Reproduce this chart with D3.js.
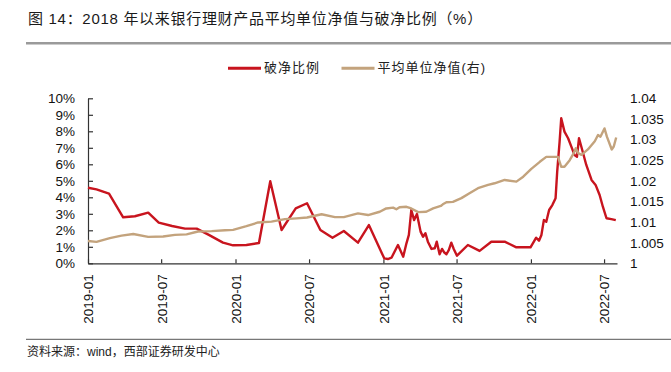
<!DOCTYPE html>
<html>
<head>
<meta charset="utf-8">
<script src="https://cdn.jsdelivr.net/npm/d3@7"></script>
<style>
  body { margin: 0; background: #fff; }
  svg { display: block; }
  text { font-family: "Liberation Sans", "Noto Sans CJK SC", sans-serif; }
</style>
</head>
<body>
<div id="svgContainer"><svg></svg></div>
<script>
const titleText = '图 14：2018 年以来银行理财产品平均单位净值与破净比例（%）'
const sourceText = '资料来源：wind，西部证券研发中心'
const seriesNames = ['破净比例', '平均单位净值(右)']

// 破净比例 (%), left axis
const breakDates = ['2019-01-01','2019-01-22','2019-02-22','2019-03-29','2019-04-27','2019-05-30','2019-06-25','2019-07-28',
  '2019-08-29','2019-09-27','2019-10-27','2019-12-01','2019-12-26','2020-01-28','2020-02-28','2020-03-27','2020-04-24',
  '2020-05-29','2020-06-26','2020-07-29','2020-08-28','2020-09-25','2020-10-30','2020-11-26','2021-01-03','2021-01-12',
  '2021-01-21','2021-02-06','2021-02-19','2021-02-27','2021-03-05','2021-03-11','2021-03-18','2021-03-25','2021-04-03',
  '2021-04-09','2021-04-15','2021-04-21','2021-04-30','2021-05-08','2021-05-13','2021-05-20','2021-05-26','2021-05-31',
  '2021-06-06','2021-06-12','2021-06-18','2021-06-24','2021-07-02','2021-07-29','2021-08-27','2021-09-25','2021-10-28',
  '2021-11-26','2021-12-31','2022-01-14','2022-01-21','2022-01-27','2022-02-02','2022-02-08','2022-02-15','2022-02-23',
  '2022-03-03','2022-03-07','2022-03-13','2022-03-17','2022-03-25','2022-04-03','2022-04-11','2022-04-19','2022-04-25',
  '2022-04-30','2022-05-08','2022-05-18','2022-05-31','2022-06-10','2022-06-20','2022-06-28','2022-07-07','2022-07-19',
  '2022-07-30']
const breakRatio = [4.58,4.48,4.22,2.79,2.85,3.07,2.46,2.26,
  2.10,2.10,1.72,1.25,1.09,1.11,1.23,4.97,2.02,
  3.33,3.64,2.02,1.55,1.96,1.25,2.32,0.30,0.26,
  0.34,1.11,0.40,1.21,1.72,3.23,2.62,2.99,1.92,
  1.61,1.82,1.31,0.87,0.91,1.31,0.55,0.87,0.67,
  0.55,0.81,1.25,0.87,0.46,1.11,0.75,1.31,1.31,
  0.97,0.97,1.55,1.37,1.72,2.62,2.52,3.23,3.53,
  3.94,5.55,7.37,8.79,7.98,7.58,7.07,6.56,6.46,
  7.58,6.87,5.96,5.05,4.75,4.14,3.43,2.73,2.68,
  2.62]

// 平均单位净值, right axis
const navDates = ['2019-01-01','2019-01-22','2019-02-24','2019-03-25','2019-04-23','2019-05-30','2019-07-06','2019-08-04',
  '2019-09-02','2019-09-30','2019-11-03','2019-12-06','2019-12-26','2020-01-28','2020-02-26','2020-03-30','2020-05-02',
  '2020-05-31','2020-06-26','2020-08-01','2020-09-03','2020-09-25','2020-10-30','2020-11-24','2020-12-23','2021-01-08',
  '2021-01-25','2021-02-02','2021-02-10','2021-02-27','2021-03-11','2021-03-28','2021-04-17','2021-05-04','2021-05-23',
  '2021-05-28','2021-06-06','2021-06-22','2021-07-13','2021-08-02','2021-08-23','2021-09-17','2021-10-03','2021-10-28',
  '2021-11-26','2021-12-13','2022-01-02','2022-01-23','2022-02-08','2022-03-09','2022-03-17','2022-03-25','2022-04-07',
  '2022-04-17','2022-04-22','2022-04-28','2022-05-06','2022-05-22','2022-06-08','2022-06-16','2022-06-22','2022-07-02',
  '2022-07-08','2022-07-20','2022-07-25','2022-07-31']
const navValue = [1.0054,1.0052,1.0061,1.0067,1.0071,1.0064,1.0065,1.0069,
  1.0070,1.0077,1.0078,1.0080,1.0081,1.0090,1.0099,1.0101,1.0107,
  1.0109,1.0111,1.0119,1.0112,1.0112,1.0121,1.0117,1.0125,1.0133,
  1.0135,1.0131,1.0136,1.0137,1.0133,1.0124,1.0125,1.0133,1.0139,
  1.0143,1.0148,1.0149,1.0158,1.0170,1.0182,1.0190,1.0194,1.0202,
  1.0198,1.0210,1.0229,1.0246,1.0258,1.0258,1.0234,1.0234,1.0250,
  1.0267,1.0279,1.0267,1.0263,1.0276,1.0296,1.0311,1.0307,1.0327,
  1.0307,1.0276,1.0283,1.0305]

const leftTicks = d3.range(0, 11, 1)
const rightTicks = [1, 1.005, 1.01, 1.015, 1.02, 1.025, 1.03, 1.035, 1.04]

const parse = d3.timeParse('%Y-%m-%d')
const breakData = breakDates.map((d, i) => ({date: parse(d), v: breakRatio[i]}))
const navData = navDates.map((d, i) => ({date: parse(d), v: navValue[i]}))

let W = 671, H = 372
let plot = {left: 88, right: 617, top: 98.3, bottom: 263.3}
let red = '#c8141e', tan = '#c3a37d'

let svg = d3.select('svg')
    .attr('width', W)
    .attr('height', H)
    .attr('viewBox', `0 0 ${W} ${H}`)

let x = d3.scaleTime()
    .domain([parse('2019-01-01'), parse('2022-08-02')])
    .range([plot.left, plot.right])

let yL = d3.scaleLinear().domain([0, 10]).range([plot.bottom, plot.top])
let yR = d3.scaleLinear().domain([1, 1.04]).range([plot.bottom, plot.top])

// title + rules
svg.append('text')
    .attr('x', 28).attr('y', 20)
    .attr('dominant-baseline', 'middle')
    .style('font-size', '15px')
    .style('letter-spacing', '0.7px')
    .attr('fill', '#1a1a1a')
    .text(titleText)

svg.append('line')
    .attr('x1', 26).attr('x2', W).attr('y1', 43.3).attr('y2', 43.3)
    .attr('stroke', '#9a9a9a').attr('stroke-width', 2.5)

svg.append('line')
    .attr('x1', 26).attr('x2', W).attr('y1', 339.3).attr('y2', 339.3)
    .attr('stroke', '#777').attr('stroke-width', 1.3)

svg.append('text')
    .attr('x', 27).attr('y', 353)
    .attr('dominant-baseline', 'middle')
    .style('font-size', '12px')
    .attr('fill', '#222')
    .text(sourceText)

// legend
let legendG = svg.append('g').attr('id', 'legendG')
let legendItems = [
    {name: seriesNames[0], color: red, x: 228},
    {name: seriesNames[1], color: tan, x: 341.5}
]
legendItems.forEach(d => {
    legendG.append('line')
        .attr('x1', d.x).attr('x2', d.x + 33)
        .attr('y1', 68.3).attr('y2', 68.3)
        .attr('stroke', d.color).attr('stroke-width', 3)
    legendG.append('text')
        .attr('x', d.x + 36).attr('y', 68.5)
        .attr('dominant-baseline', 'middle')
        .style('font-size', '13px')
        .style('letter-spacing', '1px')
        .attr('fill', '#222')
        .text(d.name)
})

// axes
let axisG = svg.append('g').attr('id', 'axisG')

let axisLeft = d3.axisLeft(yL)
    .tickValues(leftTicks)
    .tickFormat(d => d + '%')
    .tickSizeInner(-5)
    .tickSizeOuter(0)
    .tickPadding(13)

axisG.append('g')
    .attr('transform', `translate(${plot.left}, 0)`)
    .call(axisLeft)

let axisRight = d3.axisRight(yR)
    .tickValues(rightTicks)
    .tickFormat(d => String(+d.toFixed(3)))
    .tickSize(0)
    .tickPadding(13)

axisG.append('g')
    .attr('class', 'rightAxis')
    .attr('transform', `translate(${plot.right}, 0)`)
    .call(axisRight)
    .call(g => g.select('.domain').remove())

let axisBottom = d3.axisBottom(x)
    .ticks(d3.timeMonth.every(6))
    .tickFormat(d3.timeFormat('%Y-%m'))
    .tickSizeInner(-4)
    .tickSizeOuter(0)

axisG.append('g')
    .attr('transform', `translate(0, ${plot.bottom})`)
    .call(axisBottom)
    .selectAll('text')
    .attr('transform', 'rotate(-90)')
    .attr('x', -11)
    .attr('y', 0)
    .attr('dy', '0.36em')
    .attr('text-anchor', 'end')

axisG.selectAll('.domain, .tick line').attr('stroke', '#333').attr('stroke-width', 1.2)
axisG.selectAll('text')
    .style('font-family', '"Liberation Sans", Arial, sans-serif')
    .style('font-size', '13.5px')
    .attr('fill', '#111')

// series
let lineL = d3.line().x(d => x(d.date)).y(d => yL(d.v))
let lineR = d3.line().x(d => x(d.date)).y(d => yR(d.v))

svg.append('path')
    .datum(breakData)
    .attr('d', lineL)
    .attr('fill', 'none')
    .attr('stroke', red)
    .attr('stroke-width', 2.4)
    .attr('stroke-linejoin', 'round')

svg.append('path')
    .datum(navData)
    .attr('d', lineR)
    .attr('fill', 'none')
    .attr('stroke', tan)
    .attr('stroke-width', 2.4)
    .attr('stroke-linejoin', 'round')
</script>
</body>
</html>
